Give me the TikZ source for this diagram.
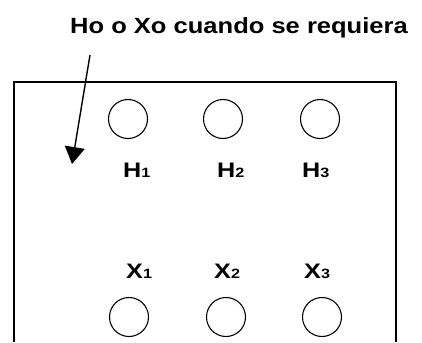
\documentclass[tikz,border=0pt]{standalone}
\usepackage{fontspec}
\setmainfont{Liberation Sans}
\newfontfamily\widebold[FakeStretch=1.2]{Liberation Sans Bold}
\newfontfamily\titlebold[FakeStretch=1.16]{Liberation Sans Bold}
\newcommand{\subdig}[1]{{\fontsize{13.5}{14}\selectfont #1}}
\usetikzlibrary{arrows.meta}
\begin{document}
\begin{tikzpicture}[x=1pt,y=-1pt,
  hole/.style={circle,draw,line width=1.1pt,minimum size=39pt,inner sep=0pt},
  lbl/.style={font=\widebold\fontsize{21}{23}\selectfont,inner sep=0pt,anchor=base west},
  frame/.style={line width=1.6pt}]
\useasboundingbox (0,0) rectangle (422,342);
\node[lbl,font=\titlebold\fontsize{22}{24}\selectfont] (title) at (70,34) {Ho o Xo cuando se requiera};
\draw[frame] (14,342) -- (14,82) -- (396,82) -- (396,342);
\node[hole] (h1) at (128,119) {};
\node[hole] (h2) at (223,119) {};
\node[hole] (h3) at (320,119) {};
\node[lbl] (lh1) at (123,177) {H\subdig{1}};
\node[lbl] (lh2) at (217,177) {H\subdig{2}};
\node[lbl] (lh3) at (302,177) {H\subdig{3}};
\node[lbl] (lx1) at (126,278) {X\subdig{1}};
\node[lbl] (lx2) at (214,278) {X\subdig{2}};
\node[lbl] (lx3) at (304,278) {X\subdig{3}};
\node[hole] (x1) at (129,317) {};
\node[hole] (x2) at (226,317) {};
\node[hole] (x3) at (322,317) {};
\coordinate (atail) at (90,55);
\coordinate (ahead) at (72,164);
\draw[line width=1.4pt,-{Triangle[length=17pt,width=20pt]}] (atail) -- (ahead);
\end{tikzpicture}
\end{document}
